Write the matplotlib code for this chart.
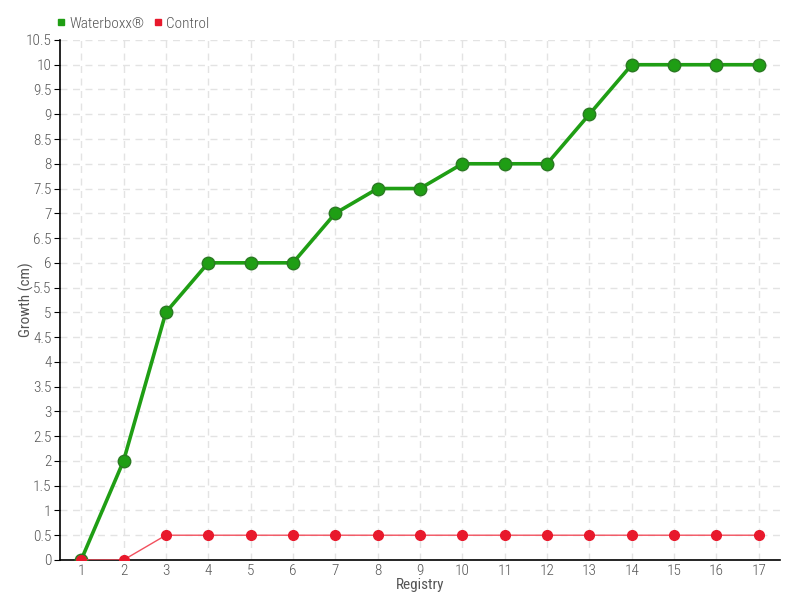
import matplotlib
matplotlib.use("Agg")
import matplotlib.pyplot as plt
from matplotlib import font_manager

# Data
registry = list(range(1, 18))
waterboxx = [0, 2, 5, 6, 6, 6, 7, 7.5, 7.5, 8, 8, 8, 9, 10, 10, 10, 10]
control = [0, 0, 0.5, 0.5, 0.5, 0.5, 0.5, 0.5, 0.5, 0.5, 0.5, 0.5, 0.5, 0.5, 0.5, 0.5, 0.5]
y_ticks = [i * 0.5 for i in range(22)]
y_labels = ["0", "0.5", "1", "1.5", "2", "2.5", "3", "3.5", "4", "4.5", "5", "5.5",
            "6", "6.5", "7", "7.5", "8", "8.5", "9", "9.5", "10", "10.5"]

names = {f.name for f in font_manager.fontManager.ttflist}
family = "Roboto Condensed" if "Roboto Condensed" in names else "DejaVu Sans"
plt.rcParams["font.family"] = [family, "DejaVu Sans"]
plt.rcParams["font.stretch"] = "condensed"
plt.rcParams["font.weight"] = "light"

text_color = "#555555"
green = "#1f9e14"
red = "#e8192c"

fig = plt.figure(figsize=(8, 6), dpi=100)
ax = fig.add_axes([0.075, 0.0667, 0.9, 0.8667])

ax.plot(registry, waterboxx, color=green, linewidth=2.6, marker="o", markersize=9,
        markerfacecolor=green, markeredgecolor="#2a7a22", markeredgewidth=1, zorder=3,
        label="Waterboxx®")
ax.plot(registry, control, color="#f2505e", linewidth=1, marker="o", markersize=7,
        markerfacecolor=red, markeredgecolor=red, zorder=4, label="Control")

ax.set_xlim(0.5, 17.5)
ax.set_ylim(0, 10.5)
ax.set_xticks(registry)
ax.set_yticks(y_ticks)
ax.set_yticklabels(y_labels)
ax.tick_params(axis="both", colors="black", labelcolor=text_color, labelsize=11)
ax.tick_params(axis="y", length=4, pad=2)
ax.tick_params(axis="x", length=0, pad=3)
ax.grid(True, color="#e3e3e3", linestyle=(0, (5, 4)), linewidth=1)
ax.set_axisbelow(True)

for side in ["top", "right"]:
    ax.spines[side].set_visible(False)
for side in ["left", "bottom"]:
    ax.spines[side].set_linewidth(1.2)

ax.set_xlabel("Registry", color=text_color, fontsize=11)
ax.xaxis.set_label_coords(0.5, -0.035)
ax.set_ylabel("Growth (cm)", color=text_color, fontsize=11)
ax.yaxis.set_label_coords(-0.036, 0.5)

handles = [
    plt.Line2D([], [], linestyle="none", marker="s", markersize=5, color=green),
    plt.Line2D([], [], linestyle="none", marker="s", markersize=5, color=red),
]
fig.legend(handles, ["Waterboxx®", "Control"], loc="upper left", bbox_to_anchor=(0.052, 0.995),
           ncol=2, frameon=False, fontsize=11, handletextpad=0.1, columnspacing=0.5,
           handlelength=0.8, labelcolor=text_color)

fig.savefig("out.png", dpi=100)
